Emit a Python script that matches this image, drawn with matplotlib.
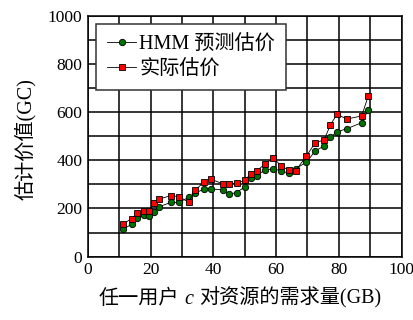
import matplotlib
matplotlib.use("Agg")
import matplotlib.pyplot as plt
from matplotlib.ticker import MultipleLocator
from matplotlib.offsetbox import TextArea, HPacker, AnchoredOffsetbox

FONTS = ["Liberation Serif", "Noto Sans CJK SC"]
plt.rcParams["font.family"] = FONTS

# demand of user c (GB)
demand = [11.3, 14.0, 15.8, 18.0, 19.5, 21.1, 22.7, 26.5, 29.1, 32.1, 34.3,
          37.1, 39.2, 43.2, 45.1, 47.4, 50.1, 51.9, 53.8, 56.4, 59.1, 61.7,
          64.0, 66.2, 69.7, 72.5, 75.3, 77.3, 79.4, 82.6, 87.3, 89.4]
# HMM predicted price
hmm_price = [115, 134, 159, 173, 169, 187, 207, 225, 225, 246, 264,
             281, 281, 277, 259, 266, 290, 328, 335, 360, 364, 356,
             346, 365, 392, 439, 459, 495, 518, 531, 556, 609]
# actual price
real_price = [136, 158, 180, 190, 190, 221, 239, 253, 249, 226, 276,
              311, 321, 302, 302, 305, 317, 344, 356, 383, 410, 376,
              359, 356, 418, 473, 484, 546, 591, 571, 584, 668]

fig = plt.figure(figsize=(4.14, 3.2), dpi=100)
ax = fig.add_axes([0.212, 0.198, 0.758, 0.753])

ax.plot(demand, hmm_price, color="black", lw=0.6, marker="o", ms=4.6,
        mfc="#007000", mec="black", mew=0.6, label="HMM 预测估价", zorder=3)
ax.plot(demand, real_price, color="black", lw=0.6, marker="s", ms=4.3,
        mfc="#ff0000", mec="black", mew=0.6, label="实际估价", zorder=4)

ax.set_xlim(0, 100)
ax.set_ylim(0, 1000)
ax.xaxis.set_major_locator(MultipleLocator(20))
ax.xaxis.set_minor_locator(MultipleLocator(10))
ax.yaxis.set_major_locator(MultipleLocator(200))
ax.yaxis.set_minor_locator(MultipleLocator(100))
ax.grid(which="both", color="black", lw=1.1)
ax.tick_params(which="both", length=0, labelsize=12.5, pad=4)
for s in ax.spines.values():
    s.set_linewidth(1.1)

ax.set_ylabel("估计价值(GC)", fontsize=14.5)
ax.yaxis.set_label_coords(-0.165, 0.49)

# x label with italic "c"
tp = dict(fontsize=14.5, family=FONTS)
xlab = HPacker(children=[
    TextArea("任一用户", textprops=tp),
    TextArea("c", textprops=dict(fontsize=14.5, family="Liberation Serif",
                                 style="italic")),
    TextArea("对资源的需求量(GB)", textprops=tp),
], align="baseline", pad=0, sep=4)
fig.add_artist(AnchoredOffsetbox(loc="center", child=xlab, frameon=False,
                                 pad=0, borderpad=0,
                                 bbox_to_anchor=(0.58, 0.069),
                                 bbox_transform=fig.transFigure))

leg = ax.legend(loc="upper left", fontsize=14.5, fancybox=False,
                framealpha=1, edgecolor="#333333", handlelength=1.45,
                handletextpad=0.15, borderaxespad=0.4, labelspacing=0.3,
                borderpad=0.55)
leg.get_frame().set_linewidth(1.1)

fig.savefig("out.png", dpi=100)
